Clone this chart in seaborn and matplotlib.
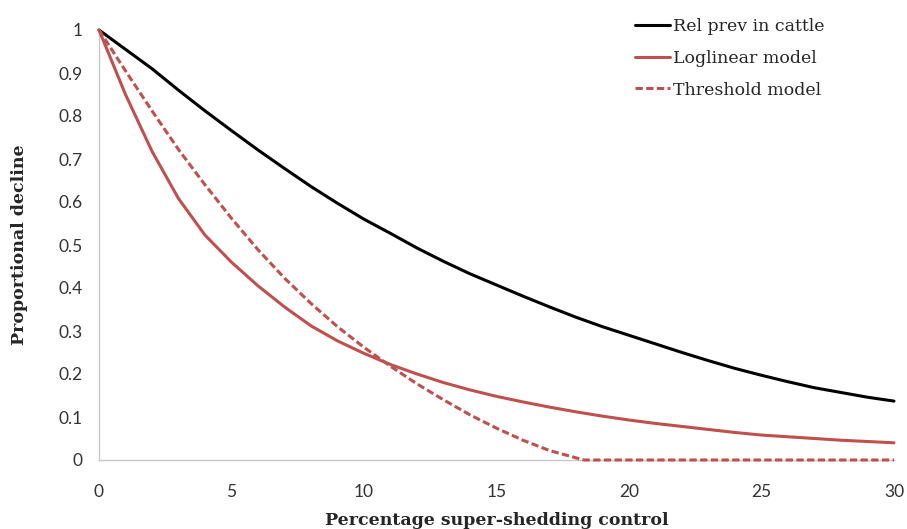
import numpy as np
import pandas as pd
import matplotlib
matplotlib.use("Agg")
import matplotlib.pyplot as plt
import seaborn as sns

# Percentage of super-shedders controlled
control_pct = list(range(0, 31))

# Relative prevalence in cattle
rel_prev = [1.0, 0.955, 0.91, 0.86, 0.812, 0.766, 0.721, 0.678, 0.636, 0.597,
            0.56, 0.527, 0.493, 0.462, 0.433, 0.407, 0.381, 0.356, 0.332, 0.31,
            0.29, 0.27, 0.25, 0.231, 0.213, 0.197, 0.182, 0.168, 0.157, 0.146,
            0.137]

# Loglinear dose-response model
loglinear = [1.0, 0.85, 0.718, 0.608, 0.523, 0.46, 0.405, 0.356, 0.312, 0.277,
             0.248, 0.222, 0.20, 0.18, 0.163, 0.148, 0.135, 0.123, 0.112, 0.102,
             0.093, 0.085, 0.078, 0.071, 0.064, 0.058, 0.054, 0.050, 0.046,
             0.043, 0.040]

# Threshold dose-response model
thr_x = [0, 1, 2, 3, 4, 5, 6, 7, 8, 9, 10, 11, 12, 13, 14, 15, 16, 17, 18,
         18.3, 19, 20, 21, 22, 23, 24, 25, 26, 27, 28, 29, 30]
threshold = [1.0, 0.905, 0.812, 0.722, 0.64, 0.562, 0.489, 0.423, 0.364, 0.31,
             0.262, 0.218, 0.177, 0.14, 0.105, 0.074, 0.046, 0.022, 0.005,
             0.0, 0.0, 0.0, 0.0, 0.0, 0.0, 0.0, 0.0, 0.0, 0.0, 0.0, 0.0, 0.0]

series_names = ["Rel prev in cattle", "Loglinear model", "Threshold model"]

df = pd.concat([
    pd.DataFrame({"x": control_pct, "y": rel_prev, "series": series_names[0]}),
    pd.DataFrame({"x": control_pct, "y": loglinear, "series": series_names[1]}),
    pd.DataFrame({"x": thr_x, "y": threshold, "series": series_names[2]}),
])

sns.set_style("white")

fig = plt.figure(figsize=(9.07, 5.29), dpi=100)
ax = fig.add_axes([99 / 907, 1 - 460 / 529, (894 - 99) / 907, (460 - 30) / 529])

palette = {series_names[0]: "#000000",
           series_names[1]: "#c0504d",
           series_names[2]: "#c0504d"}
dashes = {series_names[0]: "",
          series_names[1]: "",
          series_names[2]: (2.4, 1.1)}

sns.lineplot(data=df, x="x", y="y", hue="series", style="series",
             palette=palette, dashes=dashes, linewidth=2.2, ax=ax,
             estimator=None, sort=False, legend=True)
for line in ax.get_lines():
    line.set_clip_on(False)
    line.set_zorder(3)
    line.set_solid_joinstyle("round")

ax.set_xlim(0, 30)
ax.set_ylim(0, 1)
ax.set_xticks(range(0, 31, 5))
ax.set_yticks(np.round(np.arange(0, 1.01, 0.1), 1))
ax.set_yticklabels(["0", "0.1", "0.2", "0.3", "0.4", "0.5", "0.6", "0.7",
                    "0.8", "0.9", "1"])

for side in ["top", "right"]:
    ax.spines[side].set_visible(False)
for side in ["left", "bottom"]:
    ax.spines[side].set_color("#c8c8c8")
    ax.spines[side].set_linewidth(1.0)
    ax.spines[side].set_zorder(1)

ax.tick_params(axis="both", which="major", direction="out", length=5,
               width=1.0, color="#c8c8c8", labelcolor="#333333",
               labelsize=12.5)
ax.tick_params(axis="x", pad=12)
ax.tick_params(axis="y", pad=7)
for lbl in ax.get_xticklabels() + ax.get_yticklabels():
    lbl.set_family("Lato")

ax.set_xlabel("Percentage super-shedding control", family="DejaVu Serif",
              fontweight="bold", fontsize=12.5, labelpad=9)
ax.set_ylabel("Proportional decline", family="DejaVu Serif",
              fontweight="bold", fontsize=12.5, labelpad=22)

handles, labels = ax.get_legend_handles_labels()
leg = fig.legend(handles, labels, loc="upper left",
                 bbox_to_anchor=(635 / 907, 1 - 18 / 529), frameon=False,
                 prop={"family": "DejaVu Serif", "size": 12.5},
                 handlelength=2.0, handletextpad=0.2, labelspacing=0.85,
                 borderaxespad=0, borderpad=0)
for line in leg.get_lines():
    line.set_linewidth(2.2)
ax.get_legend().remove()

fig.savefig("out.png", dpi=100, facecolor="white")
